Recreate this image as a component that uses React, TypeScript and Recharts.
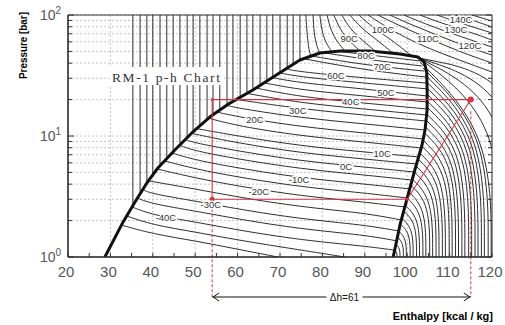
import { ComposedChart, Line, Scatter, XAxis, YAxis, CartesianGrid, ReferenceLine } from 'recharts'

type Pt = [number, number]

const FONT = "'Liberation Sans', Arial, sans-serif"
const SERIF = "'Liberation Serif', 'Times New Roman', serif"
const INK = '#2e2e2e'
const RED = '#d8323f'

// enthalpy [kcal/kg] and pressure [bar] axes
const H_MAJOR = [20, 30, 40, 50, 60, 70, 80, 90, 100, 110, 120]
const H_MINOR = [20, 25, 30, 35, 40, 45, 50, 55, 60, 65, 70, 75, 80, 85, 90, 95, 100, 105, 110, 115, 120]
const P_TICKS = [1, 2, 3, 4, 5, 6, 7, 8, 9, 10, 20, 30, 40, 50, 60, 70, 80, 90, 100]
const P_MIN = 1
const P_MAX = 100

// saturation dome: liquid line, over the top, down the vapour line
const DOME: Pt[] = [
  [28.7, 1], [33.0, 1.95], [35.8, 2.85], [38.6, 4.09], [41.2, 5.44], [45.2, 7.66], [49.2, 10.6],
  [53.5, 14.4], [58.2, 18.7], [63.6, 24.0], [69.5, 32.5], [74.7, 42.5], [79.4, 48.5], [84.2, 50.4],
  [91.2, 50.4], [98.3, 47.6], [102.5, 45.0], [104.0, 40.9], [104.6, 33.8], [104.7, 24.0], [104.7, 16.4],
  [104.2, 11.2], [103.5, 8.43], [101.8, 5.24], [100.0, 3.07], [98.3, 1.84], [96.7, 1],
]

// vertical lines left of the dome, and the pressure where each one meets the liquid line
const LIQUID_H = [35.3, 37.0, 38.6, 40.0, 41.7, 43.3, 44.8, 46.4, 48.1, 49.5, 51.1, 52.8, 54.2, 55.8, 57.5, 58.9, 60.6, 62.2, 63.6, 65.3, 66.9, 68.3, 70.0, 71.7, 73.1, 74.7]
const LIQUID_P = [2.68, 3.31, 4.09, 4.78, 5.66, 6.52, 7.36, 8.43, 9.63, 10.8, 12.1, 13.6, 14.9, 16.4, 18.0, 19.4, 20.9, 22.5, 24.0, 26.1, 28.5, 30.6, 33.4, 36.3, 39.0, 42.5]

// isotherms inside the dome, -50C .. 80C every 5C
const WET: Pt[][] = [
  [[32.5, 1.84], [40, 1.55], [50, 1.36], [60, 1.16], [69.5, 1]],
  [[33.9, 2.18], [40, 1.84], [50, 1.61], [60, 1.38], [75, 1.14], [85.3, 1]],
  [[35.1, 2.59], [40, 2.22], [50, 1.95], [60, 1.67], [75, 1.38], [90, 1.23], [97.0, 1.14]],
  [[36.3, 3.07], [40, 2.74], [50, 2.40], [60, 2.06], [75, 1.70], [90, 1.52], [97.5, 1.36]],
  [[37.7, 3.58], [40, 3.32], [50, 2.90], [60, 2.49], [75, 2.06], [90, 1.84], [98.0, 1.64]],
  [[39.1, 4.25], [50, 3.65], [60, 3.13], [75, 2.59], [90, 2.31], [98.7, 2.02]],
  [[41.0, 5.34], [50, 4.50], [60, 3.86], [75, 3.19], [90, 2.85], [99.4, 2.59]],
  [[42.9, 6.21], [50, 5.34], [60, 4.58], [75, 3.79], [90, 3.38], [100.0, 3.07]],
  [[44.5, 7.24], [50, 6.33], [60, 5.44], [75, 4.50], [90, 4.01], [100.6, 3.65]],
  [[46.4, 8.35], [50, 7.52], [60, 6.45], [75, 5.34], [90, 4.76], [101.0, 4.33]],
  [[47.6, 9.36], [50, 8.75], [60, 7.52], [75, 6.21], [90, 5.54], [101.7, 5.04]],
  [[49.2, 10.5], [60, 8.75], [75, 7.24], [90, 6.45], [102.2, 5.87]],
  [[50.4, 11.5], [60, 10.0], [75, 8.27], [90, 7.38], [102.7, 6.71]],
  [[53.3, 14.0], [60, 12.1], [75, 10.0], [90, 8.92], [103.3, 7.96]],
  [[55.1, 15.8], [60, 14.4], [75, 11.9], [90, 10.6], [103.8, 9.45]],
  [[57.5, 17.9], [60, 17.0], [75, 14.1], [90, 12.6], [104.2, 11.2]],
  [[59.9, 20.0], [75, 16.7], [90, 14.9], [104.4, 13.3]],
  [[62.2, 22.5], [75, 18.7], [90, 16.7], [104.6, 14.9]],
  [[64.3, 24.9], [75, 21.0], [90, 18.7], [104.7, 16.7]],
  [[66.5, 27.4], [75, 24.0], [90, 21.4], [104.7, 19.1]],
  [[68.1, 30.4], [75, 27.4], [90, 24.5], [104.7, 21.4]],
  [[70.0, 33.2], [75, 30.7], [90, 27.4], [104.7, 24.5]],
  [[71.4, 35.8], [75, 33.8], [90, 30.2], [104.6, 27.4]],
  [[75.9, 43.3], [90, 35.1], [104.4, 30.7]],
  [[77.5, 45.8], [90, 38.6], [104.1, 34.4]],
  [[79.9, 49.0], [91.2, 42.5], [103.5, 37.9]],
  [[83.0, 50.4], [91.2, 46.7], [103.0, 41.7]],
]

// superheated isotherms leaving the vapour line and dropping to the bottom
const VAPOUR: Pt[][] = [
  [[102.8, 44.1], [129.0, 29.0], [129.0, 1]],
  [[102.8, 44.1], [126.6, 23.1], [126.6, 1]],
  [[102.8, 44.1], [124.2, 18.0], [124.2, 1]],
  [[102.8, 44.1], [121.9, 13.6], [121.9, 1]],
  [[103.0, 40.9], [119.8, 10.6], [119.8, 1]],
  [[103.7, 36.5], [119.1, 10.6], [119.1, 1]],
  [[104.3, 31.9], [118.2, 10.3], [118.2, 1]],
  [[104.4, 28.4], [117.5, 9.9], [117.5, 1]],
  [[104.7, 24.9], [116.7, 9.45], [116.7, 1]],
  [[104.7, 22.2], [116.0, 8.92], [116.0, 1]],
  [[104.7, 19.5], [115.2, 8.35], [115.2, 1]],
  [[104.7, 17.3], [114.5, 7.9], [114.5, 1]],
  [[104.6, 15.2], [113.6, 7.38], [113.6, 1]],
  [[104.4, 13.6], [112.9, 6.84], [112.9, 1]],
  [[104.3, 11.9], [112.1, 6.28], [112.1, 1]],
  [[104.1, 10.6], [111.4, 5.87], [111.4, 1]],
  [[103.7, 9.27], [110.6, 5.34], [110.6, 1]],
  [[103.4, 8.27], [109.9, 4.92], [109.9, 1]],
  [[103.0, 7.24], [109.0, 4.43], [109.0, 1]],
  [[102.6, 6.45], [108.3, 4.05], [108.3, 1]],
  [[102.1, 5.65], [107.5, 3.66], [107.5, 1]],
  [[101.7, 5.04], [106.8, 3.34], [106.8, 1]],
  [[101.2, 4.41], [106.0, 3.0], [106.0, 1]],
  [[100.8, 3.94], [105.3, 2.75], [105.3, 1]],
  [[100.4, 3.45], [104.4, 2.48], [104.4, 1]],
  [[100.0, 3.07], [103.7, 2.27], [103.7, 1]],
  [[99.5, 2.69], [102.9, 2.05], [102.9, 1]],
  [[99.2, 2.40], [102.2, 1.88], [102.2, 1]],
  [[98.7, 2.10], [101.4, 1.70], [101.4, 1]],
  [[98.4, 1.87], [100.7, 1.56], [100.7, 1]],
  [[98.0, 1.64], [99.8, 1.41], [99.8, 1]],
  [[97.7, 1.46], [99.1, 1.30], [99.1, 1]],
  [[97.3, 1.28], [98.3, 1.18], [98.3, 1]],
  [[97.0, 1.14], [97.6, 1.09], [97.6, 1]],
]

// isotherms above the dome, from the top edge down to the dome or the right edge
const UPPER: Pt[][] = [
  [[76.1, 100], [76.4, 68.3], [76.8, 51.4], [77.3, 45.8]],
  [[77.8, 100], [78.0, 71.0], [78.7, 54.4], [79.4, 48.5]],
  [[79.4, 100], [79.9, 71.0], [81.1, 56.5], [82.3, 49.5]],
  [[81.1, 100], [82.0, 73.8], [83.7, 58.7], [85.3, 50.4]],
  [[82.7, 100], [84.2, 75.2], [86.5, 59.8], [88.9, 50.4]],
  [[84.6, 100], [86.5, 76.6], [89.6, 61.0], [92.6, 49.8]],
  [[86.5, 100], [89.1, 78.1], [92.9, 62.1], [96.7, 48.3]],
  [[88.6, 100], [91.7, 79.6], [96.4, 62.1], [101.1, 45.8]],
  [[90.8, 100], [95.0, 79.6], [101.1, 61.0], [107.7, 48.5], [120, 33.8]],
  [[93.1, 100], [98.3, 81.1], [105.4, 63.3], [112.5, 49.5], [120, 40.1]],
  [[95.9, 100], [101.1, 82.7], [108.2, 65.8], [114.8, 53.4], [120, 46.7]],
  [[99.2, 100], [104.9, 82.7], [111.5, 68.3], [120, 54.4]],
  [[103.0, 100], [108.7, 84.2], [114.8, 72.4], [120, 62.1]],
  [[107.0, 100], [112.5, 85.9], [120, 71.0]],
  [[111.3, 100], [116.0, 89.2], [120, 79.6]],
  [[115.3, 100], [120, 89.2]],
]

const ISO_LABELS = [
  { text: '80C', h: 90.3, p: 46.7 }, { text: '70C', h: 94.1, p: 37.2 }, { text: '60C', h: 83.2, p: 31.9 },
  { text: '50C', h: 95.0, p: 23.1 }, { text: '40C', h: 86.7, p: 19.1 }, { text: '30C', h: 74.2, p: 16.4 },
  { text: '20C', h: 64.1, p: 13.6 }, { text: '10C', h: 94.1, p: 7.1 }, { text: '0C', h: 85.6, p: 5.65 },
  { text: '-10C', h: 74.5, p: 4.41 }, { text: '-20C', h: 65.0, p: 3.45 }, { text: '-30C', h: 53.7, p: 2.69 },
  { text: '-40C', h: 43.1, p: 2.14 }, { text: '90C', h: 86.3, p: 64.5 }, { text: '100C', h: 94.3, p: 75.2 },
  { text: '110C', h: 104.9, p: 64.5 }, { text: '120C', h: 114.8, p: 56.5 }, { text: '130C', h: 111.5, p: 75.2 },
  { text: '140C', h: 112.7, p: 91.0 },
]
const TITLE_AT = [{ h: 43.1, p: 30.7 }]

// refrigeration cycle
const H_IN = 54
const H_OUT = 115
const H_EVAP = 100
const P_COND = 20
const P_EVAP = 3
const P_MARK = 16 // where the dashed drop from the compressor outlet starts
const P_DIM = 0.467 // level of the dimension line under the axis
const CYCLE: Pt[] = [[H_OUT, P_COND], [H_IN, P_COND], [H_IN, P_EVAP], [H_EVAP, P_EVAP], [H_OUT, P_COND]]
const CYCLE_DOTS = [
  { h: H_OUT, p: P_COND, r: 3 }, { h: H_IN, p: P_EVAP, r: 2.5 },
  { h: H_IN, p: P_COND, r: 1.5 }, { h: H_EVAP, p: P_EVAP, r: 1.5 },
]

const curve = (pts: Pt[], key: string, type: 'basis' | 'linear' = 'basis', stroke = INK, width = 1) => (
  <Line key={key} data={pts.map(([h, p]) => ({ h, p }))} dataKey="p" type={type} stroke={stroke}
    strokeWidth={width} strokeLinejoin="round" dot={false} activeDot={false} isAnimationActive={false} legendType="none" />
)

const isDecade = (v: number) => {
  const e = Math.log10(v)
  return Math.abs(e - Math.round(e)) < 1e-9
}

const PTick = ({ x, y, payload }: any) => {
  const major = isDecade(payload.value)
  return (
    <g>
      <line x1={x} x2={x + (major ? 6 : 4)} y1={y} y2={y} stroke="#333" />
      {major && (
        <text x={x - 28} y={y + 5} fontSize={14} fill="#555" fontFamily={FONT}>
          10<tspan dy={-6} fontSize={10}>{Math.round(Math.log10(payload.value))}</tspan>
        </text>
      )}
    </g>
  )
}
const PMarkRight = ({ x, y, payload }: any) => (
  <line x1={x} x2={x - (isDecade(payload.value) ? 6 : 4)} y1={y} y2={y} stroke="#333" />
)
// bottom axis: a mark every 5, a number every 10
const HTick = ({ x, y, payload }: any) => (
  <g>
    <line x1={x} x2={x} y1={y} y2={y - 4} stroke="#333" />
    {payload.value % 10 === 0 && (
      <text x={x - 2} y={y + 20} textAnchor="middle" fontSize={15} fill="#555" fontFamily={FONT}>{payload.value}</text>
    )}
  </g>
)
const HMarkDown = ({ x, y }: any) => <line x1={x} x2={x} y1={y} y2={y + 4} stroke="#333" />

const DeltaH = ({ x1, x2, y1 }: any) => {
  const mid = (x1 + x2) / 2 + 6
  return (
    <g>
      <line x1={x1} x2={mid - 21} y1={y1} y2={y1} stroke="#111" />
      <line x1={mid + 15} x2={x2} y1={y1} y2={y1} stroke="#111" />
      <polyline points={`${x1 + 7},${y1 - 4} ${x1 + 1},${y1} ${x1 + 7},${y1 + 4}`} fill="none" stroke="#111" />
      <polyline points={`${x2 - 7},${y1 - 4} ${x2 - 1},${y1} ${x2 - 7},${y1 + 4}`} fill="none" stroke="#111" />
      <text x={mid - 3} y={y1 + 3.5} textAnchor="middle" fontSize={10} fill="#111" fontFamily={FONT}>{`Δh=${H_OUT - H_IN}`}</text>
    </g>
  )
}

export default function App() {
  return (
    <div style={{ position: 'absolute', left: 0, top: 0, width: 505, height: 325, background: '#fff' }}>
      <ComposedChart width={505} height={325} margin={{ top: 14, right: 12, bottom: 38, left: 0 }}>
        <CartesianGrid stroke="#c4c4c4" strokeDasharray="2 2" verticalValues={H_MAJOR} horizontalValues={P_TICKS} />
        <XAxis dataKey="h" type="number" domain={[20, 120]} ticks={H_MINOR} interval={0} allowDataOverflow
          height={30} tickSize={0} tickMargin={0} tickLine={false} tick={(pr: any) => <HTick {...pr} />}
          axisLine={{ stroke: '#222', strokeWidth: 1.5 }} />
        <XAxis xAxisId="top" orientation="top" dataKey="h" type="number" domain={[20, 120]} ticks={H_MINOR} interval={0}
          height={1} tickSize={0} tickMargin={0} tickLine={false} axisLine={{ stroke: '#333' }}
          tick={(pr: any) => <HMarkDown {...pr} y={pr.y + 1} />} />
        <YAxis type="number" scale="log" domain={[P_MIN, P_MAX]} ticks={P_TICKS} interval={0} allowDataOverflow
          width={68} tickSize={0} tickMargin={0} tickLine={false} tick={(pr: any) => <PTick {...pr} />}
          axisLine={{ stroke: '#222', strokeWidth: 1.5 }} />
        <YAxis yAxisId="right" orientation="right" type="number" scale="log" domain={[P_MIN, P_MAX]} ticks={P_TICKS}
          interval={0} allowDataOverflow width={1} tickSize={0} tickMargin={0} tickLine={false}
          axisLine={{ stroke: '#333' }} tick={(pr: any) => <PMarkRight {...pr} />} />

        {LIQUID_H.map((h, i) => curve([[h, LIQUID_P[i]], [h, P_MAX]], `liq${i}`, 'linear'))}
        {UPPER.map((pts, i) => curve(pts, `up${i}`))}
        {VAPOUR.map((pts, i) => curve(pts, `vap${i}`))}
        {WET.map((pts, i) => curve(pts, `wet${i}`))}
        {curve(DOME, 'dome', 'linear', '#111', 3)}

        {curve(CYCLE, 'cycle', 'linear', RED, 1.1)}
        <ReferenceLine segment={[{ x: H_IN, y: P_EVAP }, { x: H_IN, y: P_DIM }]} ifOverflow="visible"
          stroke={RED} strokeDasharray="3 2" />
        <ReferenceLine segment={[{ x: H_OUT, y: P_MARK }, { x: H_OUT, y: P_DIM }]} ifOverflow="visible"
          stroke={RED} strokeDasharray="3 2" />
        <ReferenceLine segment={[{ x: H_IN, y: P_DIM }, { x: H_OUT, y: P_DIM }]} ifOverflow="visible"
          shape={(pr: any) => <DeltaH {...pr} />} />

        <Scatter data={CYCLE_DOTS} dataKey="p" isAnimationActive={false} legendType="none"
          shape={(pr: any) => <circle cx={pr.cx} cy={pr.cy} r={pr.payload.r} fill={RED} />} />
        <Scatter data={ISO_LABELS} dataKey="p" isAnimationActive={false} legendType="none"
          shape={(pr: any) => (
            <text x={pr.cx} y={pr.cy} textAnchor="middle" dominantBaseline="central" fontSize={9.5} fill="#333"
              stroke="#fff" strokeWidth={3} paintOrder="stroke" fontFamily={FONT}>{pr.payload.text}</text>
          )} />
        <Scatter data={TITLE_AT} dataKey="p" isAnimationActive={false} legendType="none"
          shape={(pr: any) => (
            <g>
              <rect x={pr.cx - 57} y={pr.cy - 10} width={115} height={18} fill="#fff" />
              <text x={pr.cx} y={pr.cy + 4.5} textAnchor="middle" fontSize={13.5} fill="#333" fontFamily={SERIF}
                textLength={108} lengthAdjust="spacing">RM-1 p-h Chart</text>
            </g>
          )} />
      </ComposedChart>
      <svg width={505} height={325} style={{ position: 'absolute', left: 0, top: 0, pointerEvents: 'none' }}>
        <text transform="translate(27,45.5) rotate(-90)" textAnchor="middle" fontSize={11} fontWeight="bold"
          fontFamily={FONT} textLength={67} lengthAdjust="spacingAndGlyphs">Pressure [bar]</text>
        <text x={493} y={320} textAnchor="end" fontSize={11} fontWeight="bold" fontFamily={FONT}>Enthalpy [kcal / kg]</text>
      </svg>
    </div>
  )
}
